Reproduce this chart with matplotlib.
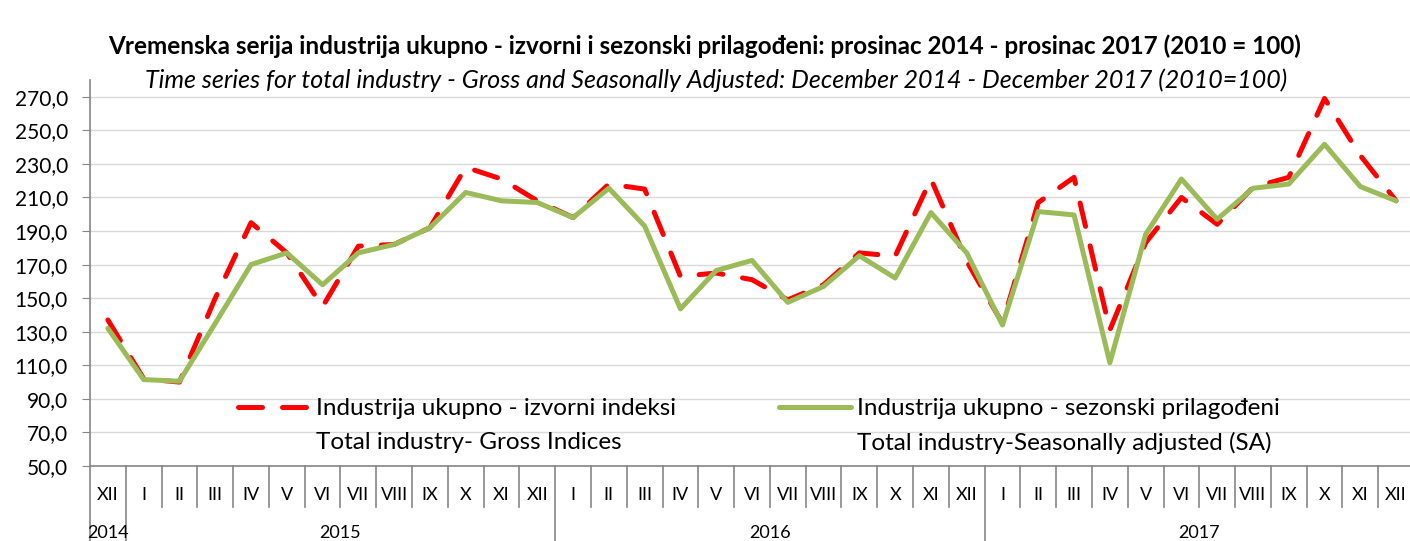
import matplotlib
matplotlib.use("Agg")
import matplotlib.pyplot as plt
from matplotlib.lines import Line2D

months = ["XII", "I", "II", "III", "IV", "V", "VI", "VII", "VIII", "IX", "X", "XI", "XII",
          "I", "II", "III", "IV", "V", "VI", "VII", "VIII", "IX", "X", "XI", "XII",
          "I", "II", "III", "IV", "V", "VI", "VII", "VIII", "IX", "X", "XI", "XII"]
years = ["2014", "2015", "2016", "2017"]
year_spans = [(0, 0), (1, 12), (13, 24), (25, 36)]

gross = [137, 102, 100, 150, 195, 177, 145, 181, 182, 192, 228, 221, 208,
         198, 218, 215, 163, 165, 161, 149, 158, 177, 175, 221, 172,
         135, 207, 222, 131, 183, 210, 194, 216, 222, 269, 235, 208]
sa = [132, 101.5, 100.5, 135, 170, 177, 158, 177, 182, 192, 213, 208, 207,
      198, 215.5, 193, 143.6, 166.5, 172.5, 147.5, 157, 175.3, 162, 201, 177,
      134, 201.6, 199.6, 111.5, 188, 221, 197, 215.5, 218, 241.7, 216.5, 208]

yticks = list(range(50, 271, 20))
FONT = "Lato"
plt.rcParams['font.family'] = [FONT, 'DejaVu Sans']

W, H = 1410, 541
fig = plt.figure(figsize=(W / 100, H / 100), dpi=100)
x0, x1, ytop, ybot = 90, 1414, 80, 466
ax = fig.add_axes([x0 / W, (H - ybot) / H, (x1 - x0) / W, (ybot - ytop) / H])

x = list(range(len(months)))
ax.plot(x, gross, color="#FF0000", lw=3.6, dashes=(4.8, 4.0), dash_capstyle="round",
        solid_joinstyle="round", zorder=3)
ax.plot(x, sa, color="#9BBB59", lw=3.6, solid_capstyle="round", solid_joinstyle="round", zorder=4)

ax.set_xlim(-0.5, len(months) - 0.5)
ax.set_ylim(50, 280)
ax.set_yticks(yticks)
ax.set_yticklabels([f"{v},0" for v in yticks], fontsize=15)
ax.grid(axis="y", color="#D9D9D9", lw=1)
ax.set_axisbelow(True)
for s in ["top", "right"]:
    ax.spines[s].set_visible(False)
for s in ["left", "bottom"]:
    ax.spines[s].set_color("#868686")
    ax.spines[s].set_linewidth(1.2)
ax.tick_params(axis="y", length=6, color="#868686", pad=10, labelcolor="black")
ax.set_xticks(x)
ax.set_xticklabels(months, fontsize=13)
ax.tick_params(axis="x", length=0, pad=15)

# separators
trans = ax.get_xaxis_transform()
axh = ybot - ytop
for i in range(len(months) + 1):
    xb = i - 0.5
    boundary = any(xb == s - 0.5 for s, e in year_spans)
    depth = (75 if boundary else 41) / axh
    ax.plot([xb, xb], [0, -depth], color="#868686", lw=1.2, transform=trans, clip_on=False)
for yr, (s, e) in zip(years, year_spans):
    ax.text((s + e) / 2, -(67 / axh), yr, transform=trans, ha="center", va="center", fontsize=13)

handles = [Line2D([], [], color="#FF0000", lw=3.6, dashes=(4.8, 4.0), dash_capstyle="round"),
           Line2D([], [], color="none"),
           Line2D([], [], color="#9BBB59", lw=3.6, solid_capstyle="round"),
           Line2D([], [], color="none")]
labels = ["Industrija ukupno - izvorni indeksi", "Total industry- Gross Indices",
          "Industrija ukupno - sezonski prilagođeni", "Total industry-Seasonally adjusted (SA)"]
leg = ax.legend(handles, labels, ncol=2, loc="center left",
                bbox_to_anchor=((238 - x0) / (x1 - x0), (ybot - 426) / axh),
                frameon=False, fontsize=17.5, handlelength=2.95, handletextpad=0.25, columnspacing=4.25,
                labelspacing=0.5, borderaxespad=0, borderpad=0)

fig.text(705 / W, 1 - 46 / H, "Vremenska serija industrija ukupno - izvorni i sezonski prilagođeni: prosinac 2014 - prosinac 2017 (2010 = 100)",
         ha="center", va="center", fontsize=17.5, fontweight="bold")
fig.text(716 / W, 1 - 80 / H, "Time series for total industry - Gross and Seasonally Adjusted: December 2014 - December 2017 (2010=100)",
         ha="center", va="center", fontsize=18, style="italic")

fig.savefig("out.png", dpi=100)
